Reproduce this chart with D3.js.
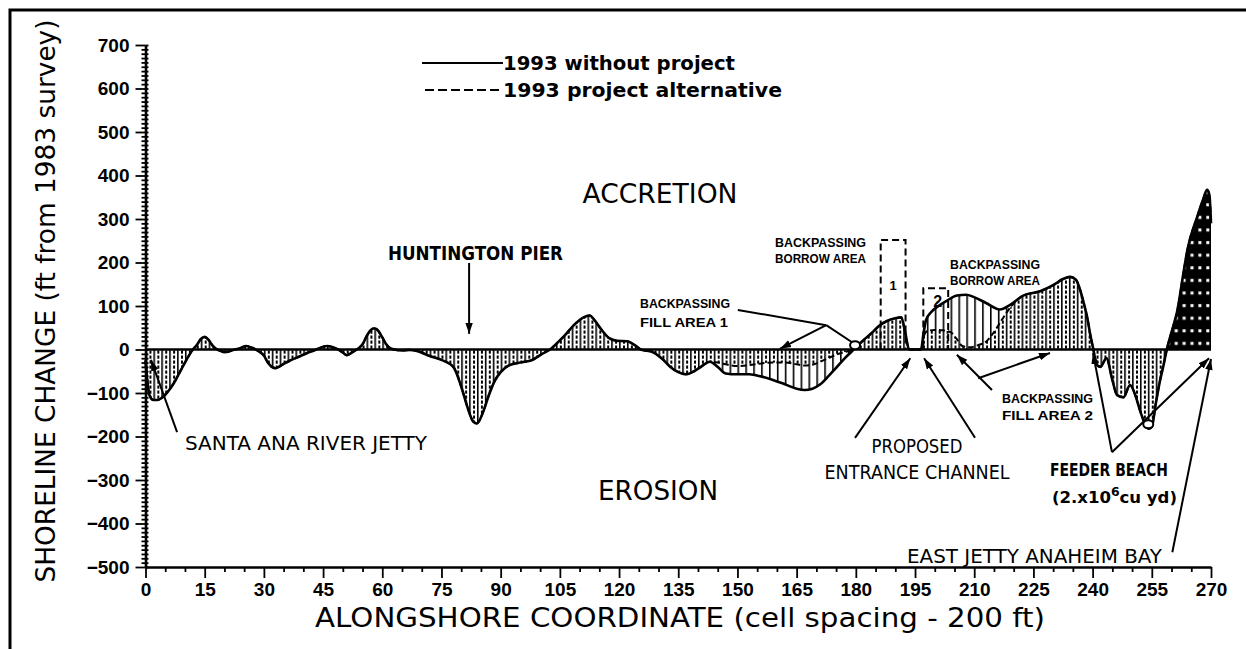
<!DOCTYPE html>
<html>
<head>
<meta charset="utf-8">
<script src="https://cdn.jsdelivr.net/npm/d3@7"></script>
<style>
  body { margin: 0; background: #fff; }
  svg { display: block; }
</style>
</head>
<body>
<svg id="chart" width="1246" height="649"></svg>
<script>
// Alongshore coordinate (cell number) and shoreline change (ft), 1993 without project
const withoutX = [0,0.5,1,2,3,4,5,6,7,8,9,10,11,12,13,14,15,16,17,18,19,20,21,22,24,25.5,27,28.5,30,31,32,33,34,35,37,39,41,43,44,46,47.5,49,50,51,52,53,54,55,56,57,58,59,60,61,62,63,65,67,69,72,75,78,80,81.5,83,84,85.5,87,88.5,90,92,95,98,100.5,102.5,104,106,109,111,112.5,114,115.5,117.5,119.5,122,124,125.5,128.5,131,133,135,137,139,141,143,145,147,150,153,156,159,162,165,167,169,171,173,175,177,179,180.5,182,184,186,188,190,191.5,192.5,193.5,196.5,197.2,197.8,199,200.6,203,205.6,208,209.8,213,216.5,219,222.4,226.7,230,232.5,234.3,235.8,236.8,237.8,238.6,239.5,240.2,241,242,243.5,245,246.2,247.8,249.5,251,252,253,254.2,255,256,257,258,258.8,260,261.5,263,264,266.5,268,269,269.6,270];
const withoutY = [-25,-75,-105,-116,-116,-112,-104,-93,-80,-64,-47,-30,-14,0,10,24,29,22,9,1,-3,-6,-5,-2,3,8,4,-3,-14,-30,-40,-43,-39,-33,-24,-16,-8,-1,3,8,5,-1,-7,-13,-9,-3,3,12,30,44,49,43,28,12,3,0,-2,-1,-4,-15,-24,-40,-85,-130,-165,-170,-145,-105,-72,-52,-37,-30,-24,-10,0,12,30,60,74,78,65,46,26,20,19,10,0,-6,-22,-40,-52,-57,-50,-38,-28,-40,-55,-57,-57,-62,-70,-80,-90,-93,-90,-80,-62,-42,-22,-4,10,22,38,55,66,72,74,40,0,0,40,68,85,98,112,124,126,121,107,92,102,124,134,148,162,167,160,138,105,75,30,0,-35,-40,-20,-70,-105,-110,-82,-110,-140,-165,-182,-178,-125,-75,-35,0,40,91,175,228,305,345,367,355,290];

// 1993 project alternative: where it departs from the no-project shoreline
const altFillX = [145,147,150,153,156,159,162,165,167,169,171,173,175,177,179];
const altFillY = [-30,-34,-38,-36,-32,-30,-30,-34,-37,-35,-28,-20,-12,-6,-1];
const altBorrowX = [197.2,198,200,202,204,205.5,207,209,211,213,215,217,219,221];
const altBorrowY = [30,42,45,44,40,25,8,5,10,18,40,68,95,115];

// Borrow area boxes: [first cell, last cell, top (ft), label]
const borrowBoxes = [[186.3, 192.6, 252, "1"], [197.1, 203.4, 141, "2"]];

// Tick values
const xTicks = d3.range(0, 271, 15);
const yTicks = d3.range(-500, 701, 100);

const svg = d3.select("#chart");
const x = d3.scaleLinear().domain([0, 270]).range([145.5, 1211]);
const y = d3.scaleLinear().domain([-500, 700]).range([567, 45]);

const withoutPts = withoutX.map((c, i) => [c, withoutY[i]]);
const altPts = withoutPts
  .filter(([c]) => !(c > 143 && c < 180.5) && !(c > 196.5 && c < 222.4))
  .concat(altFillX.map((c, i) => [c, altFillY[i]]))
  .concat(altBorrowX.map((c, i) => [c, altBorrowY[i]]))
  .sort((a, b) => a[0] - b[0]);

// Hatch patterns: solid verticals every second cell, dashed verticals between
const defs = svg.append("defs");
const step = x(2) - x(0);
const pSolid = defs.append("pattern").attr("id", "hatchSolid")
  .attr("patternUnits", "userSpaceOnUse").attr("x", x(0)).attr("y", 0)
  .attr("width", step).attr("height", 10);
pSolid.append("line").attr("x1", 0.8).attr("x2", 0.8).attr("y1", 0).attr("y2", 10)
  .attr("stroke", "#000").attr("stroke-width", 1.6);
const pDash = defs.append("pattern").attr("id", "hatchDash")
  .attr("patternUnits", "userSpaceOnUse").attr("x", x(1)).attr("y", 0)
  .attr("width", step).attr("height", 5);
pDash.append("line").attr("x1", 1).attr("x2", 1).attr("y1", 0.5).attr("y2", 3.7)
  .attr("stroke", "#000").attr("stroke-width", 2);
const pDense = defs.append("pattern").attr("id", "hatchDense")
  .attr("patternUnits", "userSpaceOnUse").attr("x", x(0)).attr("y", y(0))
  .attr("width", step).attr("height", 12.6);
pDense.append("rect").attr("width", step).attr("height", 12.6).attr("fill", "#000");
pDense.append("rect").attr("x", 3.2).attr("y", 5).attr("width", 3).attr("height", 3).attr("fill", "#fff");
defs.append("clipPath").attr("id", "denseClip").append("rect")
  .attr("x", x(258.8)).attr("y", 0).attr("width", x(270) - x(258.8) + 1).attr("height", y(0));

const marker = defs.append("marker").attr("id", "arrow")
  .attr("viewBox", "0 0 10 10").attr("refX", 10).attr("refY", 5)
  .attr("markerWidth", 11).attr("markerHeight", 11)
  .attr("markerUnits", "userSpaceOnUse").attr("orient", "auto");
marker.append("path").attr("d", "M0,1.6 L10,5 L0,8.4 Z").attr("fill", "#000");

const area = d3.area().x(d => x(d[0])).y0(y(0)).y1(d => y(d[1])).curve(d3.curveMonotoneX);
const line = d3.line().x(d => x(d[0])).y(d => y(d[1])).curve(d3.curveMonotoneX);

// Hatched areas
svg.append("path").attr("d", area(withoutPts)).attr("fill", "url(#hatchSolid)");
svg.append("path").attr("d", area(altPts)).attr("fill", "url(#hatchDash)");
svg.append("path").attr("d", area(withoutPts)).attr("fill", "url(#hatchDense)")
  .attr("clip-path", "url(#denseClip)");

// Borrow area boxes
svg.selectAll(".box").data(borrowBoxes).join("path").attr("class", "box")
  .attr("d", d => `M${x(d[0])},${y(0)}V${y(d[2])}H${x(d[1])}V${y(0)}`)
  .attr("fill", "none").attr("stroke", "#000").attr("stroke-width", 2)
  .attr("stroke-dasharray", "7,4");

// Shoreline curves
svg.append("path").attr("d", line(altPts)).attr("fill", "none")
  .attr("stroke", "#000").attr("stroke-width", 2).attr("stroke-dasharray", "6,3");
svg.append("path").attr("d", line(withoutPts)).attr("fill", "none")
  .attr("stroke", "#000").attr("stroke-width", 2.6).attr("stroke-linejoin", "round");

// Zero line
svg.append("line").attr("x1", x(0)).attr("x2", x(270)).attr("y1", y(0)).attr("y2", y(0))
  .attr("stroke", "#000").attr("stroke-width", 2.6);

// Axes
const tickFont = "'Liberation Sans', Arial, sans-serif";
const gx = svg.append("g").attr("transform", `translate(0,${y(-500)})`)
  .call(d3.axisBottom(x).tickValues(xTicks).tickSize(11).tickSizeOuter(0).tickPadding(5));
const gxm = svg.append("g").attr("transform", `translate(0,${y(-500)})`)
  .call(d3.axisBottom(x).tickValues(d3.range(0, 271, 5).filter(v => v % 15)).tickSize(5).tickFormat(""));
const gy = svg.append("g").attr("transform", `translate(${x(0)},0)`)
  .call(d3.axisLeft(y).tickValues(yTicks).tickSize(10).tickSizeOuter(0).tickPadding(6));
const gym = svg.append("g").attr("transform", `translate(${x(0)},0)`)
  .call(d3.axisLeft(y).tickValues(d3.range(-500, 701, 10).filter(v => v % 100)).tickSize(4).tickFormat(""));
const gym2 = svg.append("g").attr("transform", `translate(${x(0)},0)`)
  .call(d3.axisRight(y).tickValues(d3.range(-500, 701, 10)).tickSize(3).tickFormat(""));
[gx, gxm, gy, gym, gym2].forEach(g => {
  g.selectAll("path.domain").attr("stroke", "#000").attr("stroke-width", 2.6);
  g.selectAll(".tick line").attr("stroke", "#000").attr("stroke-width", 1.8);
  g.selectAll("text").attr("fill", "#000").attr("font-family", tickFont)
    .attr("font-size", 19).attr("font-weight", "bold");
});
gym.select("path.domain").remove();
gym2.select("path.domain").remove();
gxm.select("path.domain").remove();

// Frame
svg.append("path").attr("d", "M10,649V10H1246").attr("fill", "none")
  .attr("stroke", "#000").attr("stroke-width", 3);

// Text helper
const mainFont = "'DejaVu Sans', sans-serif";
function text(str, px, py, len, size, opts = {}) {
  const t = svg.append("text").attr("x", px).attr("y", py)
    .attr("font-family", opts.family || mainFont).attr("font-size", size)
    .attr("font-weight", opts.weight || "normal")
    .attr("text-anchor", opts.anchor || "start").attr("fill", "#000")
    .attr("textLength", len).attr("lengthAdjust", "spacingAndGlyphs")
    .text(str);
  if (opts.rotate) t.attr("transform", `rotate(-90,${px},${py})`);
  return t;
}

// Axis titles
text("SHORELINE CHANGE (ft from 1983 survey)", 55, 301, 563, 26, { anchor: "middle", rotate: true });
text("ALONGSHORE COORDINATE (cell spacing - 200 ft)", 680, 627, 730, 26, { anchor: "middle" });

// Legend
svg.append("line").attr("x1", 422).attr("x2", 503).attr("y1", 63).attr("y2", 63)
  .attr("stroke", "#000").attr("stroke-width", 2);
svg.append("line").attr("x1", 425).attr("x2", 503).attr("y1", 90).attr("y2", 90)
  .attr("stroke", "#000").attr("stroke-width", 2).attr("stroke-dasharray", "9,4");
text("1993 without project", 503, 70, 232, 20, { weight: "bold" });
text("1993 project alternative", 503, 97, 279, 20, { weight: "bold" });

// Region labels
text("ACCRETION", 660, 203, 155, 27, { anchor: "middle" });
text("EROSION", 658, 500, 120, 27, { anchor: "middle" });

// Annotations
const boldSmall = { weight: "bold", family: tickFont };
text("HUNTINGTON PIER", 388, 260, 175, 20, { weight: "bold" });
text("SANTA ANA RIVER JETTY", 185, 450, 242, 20);
text("PROPOSED", 917, 453, 91, 20, { anchor: "middle" });
text("ENTRANCE CHANNEL", 917, 479, 185, 20, { anchor: "middle" });
text("EAST JETTY ANAHEIM BAY", 907, 563, 255, 20);
text("FEEDER BEACH", 1050, 476, 118, 18, { weight: "bold" });
const fb = svg.append("text").attr("x", 1052).attr("y", 503)
  .attr("font-family", mainFont).attr("font-size", 16).attr("font-weight", "bold");
fb.append("tspan").text("(2.x10");
fb.append("tspan").attr("dy", -7).attr("font-size", 12).text("6");
fb.append("tspan").attr("dy", 7).text("cu yd)");
fb.attr("textLength", 125).attr("lengthAdjust", "spacingAndGlyphs");
text("BACKPASSING", 775, 247, 91, 13, boldSmall);
text("BORROW AREA", 775, 263, 91, 13, boldSmall);
text("BACKPASSING", 950, 269, 90, 13, boldSmall);
text("BORROW AREA", 950, 285, 90, 13, boldSmall);
text("BACKPASSING", 640, 308, 90, 13, boldSmall);
text("FILL AREA 1", 640, 327, 88, 13, boldSmall);
text("BACKPASSING", 1002, 403, 91, 13, boldSmall);
text("FILL AREA 2", 1002, 420, 91, 13, boldSmall);
svg.selectAll(".boxlabel").data(borrowBoxes).join("text").attr("class", "boxlabel")
  .attr("x", d => (x(d[0]) + x(d[1])) / 2 + (d[3] === "2" ? 2 : 0))
  .attr("y", (d, i) => i === 0 ? 290 : 307)
  .attr("text-anchor", "middle").attr("font-family", tickFont)
  .attr("font-weight", "bold").attr("font-size", d => d[3] === "2" ? 16 : 13)
  .text(d => d[3]);

// Leader lines in data units: [from, to, arrowhead]
const leaders = [
  [[82, 199], [82, 36], true],
  [[8, -190], [1.4, -24], true],
  [[150.1, 91], [172.5, 56], false],
  [[172.5, 56], [160.8, 2], true],
  [[172.5, 56], [179.8, 12], false],
  [[179.8, -203], [193.8, -20], true],
  [[210.2, -203], [197.3, -20], true],
  [[214.5, -93], [205.6, -12], true],
  [[211, -66], [229.2, -8], true],
  [[244.9, -236], [240.1, -8], true],
  [[244.9, -236], [269.5, -20], true],
  [[260.2, -466], [270, -22], true]
];
svg.selectAll(".leader").data(leaders).join("line").attr("class", "leader")
  .attr("x1", d => x(d[0][0])).attr("y1", d => y(d[0][1]))
  .attr("x2", d => x(d[1][0])).attr("y2", d => y(d[1][1]))
  .attr("stroke", "#000").attr("stroke-width", 2)
  .attr("marker-end", d => d[2] ? "url(#arrow)" : null);

// Small crossing marks where leaders meet the shoreline
const crossMarks = [[179.8, 10], [254.1, -172]];
svg.selectAll(".cross").data(crossMarks).join("ellipse").attr("class", "cross")
  .attr("cx", d => x(d[0])).attr("cy", d => y(d[1])).attr("rx", 5).attr("ry", 4)
  .attr("fill", "#fff").attr("stroke", "#000").attr("stroke-width", 2);
</script>
</body>
</html>
